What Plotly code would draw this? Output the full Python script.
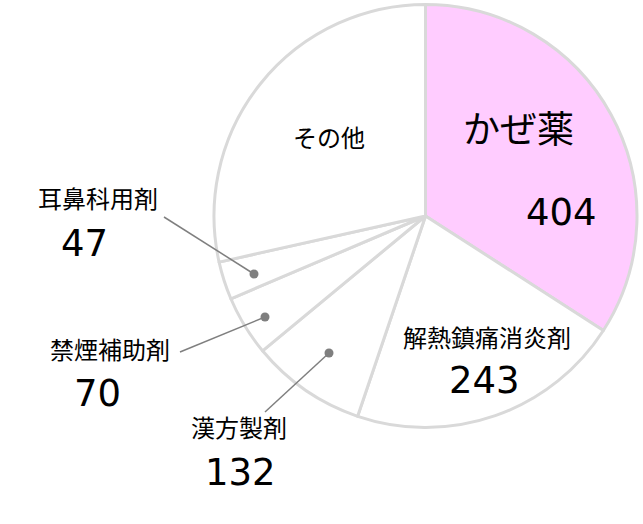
import plotly.graph_objects as go

W, H = 643, 524

# slice labels and the numbers printed on the chart
labels = ['かぜ薬', '解熱鎮痛消炎剤', '漢方製剤', '禁煙補助剤', '耳鼻科用剤', 'その他']
counts = [404, 243, 132, 70, 47, None]
# slice sizes as drawn in the picture (share, %)
shares = [34.1, 21.1, 8.8, 4.6, 2.9, 28.5]
colors = ['#FFCCFF', 'white', 'white', 'white', 'white', 'white']

def px(x, y):
    return x / W, 1 - y / H

fig = go.Figure()
fig.add_trace(go.Pie(
    labels=labels,
    values=shares,
    sort=False,
    direction='clockwise',
    rotation=0,
    textinfo='none',
    hoverinfo='skip',
    showlegend=False,
    marker=dict(colors=colors, line=dict(color='#D9D9D9', width=3)),
    domain=dict(x=[214 / W, 637 / W], y=[1 - 427.5 / H, 1 - 4.5 / H]),
))

FONT = 'DejaVu Sans, Noto Sans CJK JP'
ann = []
def txt(s, x, y, size):
    xx, yy = px(x, y)
    ann.append(dict(text=s, x=xx, y=yy, xref='paper', yref='paper', showarrow=False,
                    xanchor='center', yanchor='middle',
                    font=dict(family=FONT, size=size, color='black')))

# label positions (pixels): name, number
pos = {
    'かぜ薬': ((518, 130, 37), (561, 212, 37)),
    '解熱鎮痛消炎剤': ((487, 339, 24), (484, 380, 37)),
    '漢方製剤': ((239, 429, 24), (240, 472, 37)),
    '禁煙補助剤': ((110, 351, 24), (97, 393, 37)),
    '耳鼻科用剤': ((98, 200, 24), (84, 243, 37)),
    'その他': ((329, 139, 24), None),
}
for name, c in zip(labels, counts):
    a, b = pos[name]
    txt(name, *a)
    if c is not None and b is not None:
        txt(str(c), *b)

# leader lines with dots for the small slices
leaders = [((164, 217), (254, 274)), ((180, 352), (265, 317)), ((265, 412), (329, 353))]
shapes = []
for (x0, y0), (x1, y1) in leaders:
    a0, b0 = px(x0, y0)
    a1, b1 = px(x1, y1)
    shapes.append(dict(type='line', xref='paper', yref='paper', x0=a0, y0=b0, x1=a1, y1=b1,
                       line=dict(color='#7F7F7F', width=1.5)))
    c0, d0 = px(x1 - 4.5, y1 + 4.5)
    c1, d1 = px(x1 + 4.5, y1 - 4.5)
    shapes.append(dict(type='circle', xref='paper', yref='paper',
                       x0=c0, x1=c1, y0=d0, y1=d1,
                       fillcolor='#7F7F7F', line=dict(width=0)))

fig.update_layout(
    width=W, height=H,
    margin=dict(l=0, r=0, t=0, b=0),
    paper_bgcolor='white',
    annotations=ann,
    shapes=shapes,
)
fig.write_html("out.html", config={'displayModeBar': False},
               post_script="document.body.style.margin='0';")
